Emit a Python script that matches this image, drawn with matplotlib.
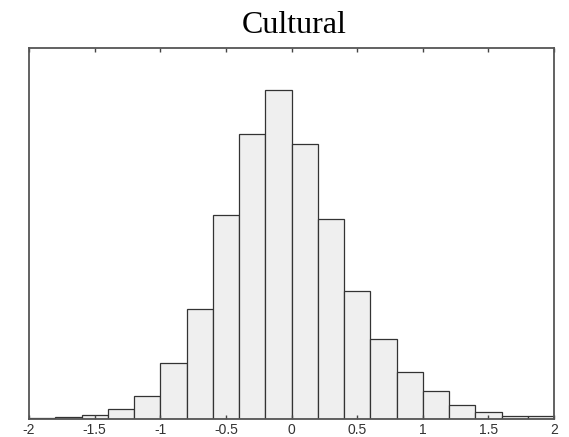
import numpy as np
from matplotlib import pyplot as plt

# bin edges and bar heights
edges = np.linspace(-2, 2, 21)
counts = [1, 2, 3.3, 9.3, 23, 56, 110, 204, 285, 329,
          275, 200, 128, 80, 47, 28, 14, 7, 2.5, 2.5]
tick_pos = [-2, -1.5, -1, -0.5, 0, 0.5, 1, 1.5, 2]
tick_lab = ["-2", "-1.5", "-1", "-0.5", "0", "0.5", "1", "1.5", "2"]

fig = plt.figure(figsize=(5.69, 4.37), dpi=100)
ax = fig.add_axes([29/569, (437-418.5)/437, (554-29)/569, (418.5-48)/437])

ax.bar(edges[:-1], counts, width=np.diff(edges), align='edge',
       facecolor='#efefef', edgecolor='#333333', linewidth=0.9)

ax.set_xlim(-2, 2)
ax.set_ylim(0, 370.5)
ax.set_yticks([])
ax.set_xticks(tick_pos)
ax.set_xticklabels(tick_lab, family='Liberation Sans', fontsize=10, color='#333333')
ax.tick_params(axis='x', direction='in', top=True, bottom=True, length=3,
               width=1, color='#444444', pad=3)

for s in ax.spines.values():
    s.set_color('#555555')
    s.set_linewidth(1.3)

fig.text(294/569, (437-33.3)/437, "Cultural", family='Liberation Serif',
         fontsize=23, ha='center', va='baseline')

plt.savefig("out.png")
plt.close()
